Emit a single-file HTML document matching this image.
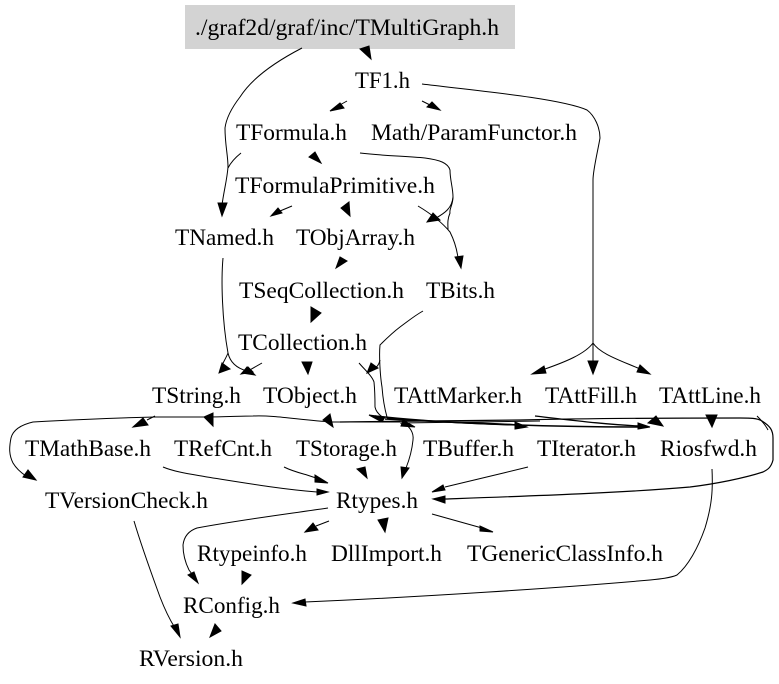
<!DOCTYPE html>
<html>
<head>
<meta charset="utf-8">
<style>
html,body{margin:0;padding:0;background:#fff;width:779px;height:684px;overflow:hidden}
svg{display:block}
text{font-family:"Liberation Serif",serif;font-size:23px;fill:#000}
path{fill:none;stroke:#000;stroke-width:1}
polygon{fill:#000;stroke:#000;stroke-width:1}
</style>
</head>
<body>
<svg width="779" height="684" viewBox="0 0 779 684" xmlns="http://www.w3.org/2000/svg">
<rect x="185" y="5" width="330" height="44" fill="#d3d3d3"/>
<g>
<text x="195" y="35" textLength="304" lengthAdjust="spacingAndGlyphs">./graf2d/graf/inc/TMultiGraph.h</text>
<text x="355" y="88" textLength="55" lengthAdjust="spacingAndGlyphs">TF1.h</text>
<text x="236" y="140" textLength="111" lengthAdjust="spacingAndGlyphs">TFormula.h</text>
<text x="371" y="140" textLength="206" lengthAdjust="spacingAndGlyphs">Math/ParamFunctor.h</text>
<text x="235" y="193" textLength="200" lengthAdjust="spacingAndGlyphs">TFormulaPrimitive.h</text>
<text x="175" y="245" textLength="99" lengthAdjust="spacingAndGlyphs">TNamed.h</text>
<text x="296" y="245" textLength="119" lengthAdjust="spacingAndGlyphs">TObjArray.h</text>
<text x="239" y="298" textLength="165" lengthAdjust="spacingAndGlyphs">TSeqCollection.h</text>
<text x="426" y="298" textLength="69" lengthAdjust="spacingAndGlyphs">TBits.h</text>
<text x="238" y="350" textLength="129" lengthAdjust="spacingAndGlyphs">TCollection.h</text>
<text x="152" y="403" textLength="89" lengthAdjust="spacingAndGlyphs">TString.h</text>
<text x="263" y="403" textLength="94" lengthAdjust="spacingAndGlyphs">TObject.h</text>
<text x="394" y="403" textLength="128" lengthAdjust="spacingAndGlyphs">TAttMarker.h</text>
<text x="545" y="403" textLength="92" lengthAdjust="spacingAndGlyphs">TAttFill.h</text>
<text x="659" y="403" textLength="102" lengthAdjust="spacingAndGlyphs">TAttLine.h</text>
<text x="25" y="456" textLength="126" lengthAdjust="spacingAndGlyphs">TMathBase.h</text>
<text x="174" y="456" textLength="98" lengthAdjust="spacingAndGlyphs">TRefCnt.h</text>
<text x="296" y="456" textLength="101" lengthAdjust="spacingAndGlyphs">TStorage.h</text>
<text x="423" y="456" textLength="91" lengthAdjust="spacingAndGlyphs">TBuffer.h</text>
<text x="537" y="456" textLength="99" lengthAdjust="spacingAndGlyphs">TIterator.h</text>
<text x="660" y="456" textLength="97" lengthAdjust="spacingAndGlyphs">Riosfwd.h</text>
<text x="45" y="508" textLength="163" lengthAdjust="spacingAndGlyphs">TVersionCheck.h</text>
<text x="336" y="508" textLength="82" lengthAdjust="spacingAndGlyphs">Rtypes.h</text>
<text x="197" y="561" textLength="110" lengthAdjust="spacingAndGlyphs">Rtypeinfo.h</text>
<text x="331" y="561" textLength="111" lengthAdjust="spacingAndGlyphs">DllImport.h</text>
<text x="467" y="561" textLength="196" lengthAdjust="spacingAndGlyphs">TGenericClassInfo.h</text>
<text x="183" y="613" textLength="97" lengthAdjust="spacingAndGlyphs">RConfig.h</text>
<text x="139" y="666" textLength="104" lengthAdjust="spacingAndGlyphs">RVersion.h</text>
</g>
<!-- connectors -->
<path d="M302,48 C275,62 252,78 240,97 C230,110 226,120 225,128 C225,145 228,155 228,167 C227,180 224,190 222,205"/>
<path d="M241,153 C236,157 231,162 228,168"/>
<path d="M347,101 L338,106"/>
<path d="M422,101 L432,106"/>
<path d="M422,84 C470,90 560,98 587,110 C595,116 600,128 600,138 C598,150 593,170 593,180 L593,361"/>
<path d="M593,343 C585,354 565,362 545,369"/>
<path d="M593,343 C600,354 622,361 640,369"/>
<path d="M360,153 C385,156 405,156 425,158 C440,160 448,163 450,170 C450,180 453,188 453,197 C453,205 449,209 450,213 C447,220 448,225 448,230"/>
<path d="M453,197 C452,208 445,213 436,218"/>
<path d="M418,206 C428,212 440,220 450,232 C454,240 457,250 458,258"/>
<path d="M292,206 L280,211"/>
<path d="M223,258 C221,280 222,320 228,353 C226,358 224,361 222,365"/>
<path d="M228,353 C230,362 236,368 247,371"/>
<path d="M262,363 L248,371"/>
<path d="M359,363 C365,370 372,376 374,382 C375,392 375,400 375,407 C376,412 379,415 384,418"/>
<path d="M423,311 C414,316 407,322 400,327 C392,333 385,340 380,345 C379,355 380,375 382,387 C383,400 385,410 387,417"/>
<path d="M380,360 C379,365 376,368 373,369"/>
<path d="M375,416 C430,422 480,424 520,425" style="stroke-width:1.5"/>
<path d="M387,418 C460,424 560,427 642,427" style="stroke-width:1.5"/>
<path d="M385,419 C440,422 490,423 518,425" style="stroke-width:1.5"/>
<path d="M400,422 L333,422 C300,420 275,415 253,416 C240,416 225,417 204,417 L155,417 C110,418 70,420 33,422 C20,425 13,430 11,438 C9,448 9,455 13,463 C16,468 20,472 26,476"/>
<path d="M400,423 L540,421"/>
<path d="M155,416 L147,420"/>
<path d="M340,422 C400,421 470,421 520,420 C600,418 680,418 740,418 C750,418 757,418 762,421 C770,426 773,430 773,438 L773,460 C771,468 767,470 763,472 C745,478 715,484 690,487 C620,493 530,496 445,499" style="stroke-width:1.2"/>
<path d="M757,416 C763,422 766,426 768,430"/>
<path d="M535,416 C570,420 610,425 640,426" style="stroke-width:1.3"/>
<path d="M403,421 C410,428 414,432 413,440 C412,450 410,458 406,468"/>
<path d="M528,467 C500,474 470,481 445,487"/>
<path d="M712,469 C713,490 712,505 705,528 C698,548 688,566 677,575 C670,578 660,579 650,580 C560,588 420,597 305,602"/>
<path d="M163,467 C175,472 190,474 207,477 C245,483 280,489 317,492"/>
<path d="M284,467 C292,471 300,473 307,475 L316,478"/>
<path d="M328,508 C280,515 240,520 197,528 C188,531 184,537 183,545 C183,555 185,562 189,570 L192,574"/>
<path d="M329,521 L316,526"/>
<path d="M432,514 L482,528"/>
<path d="M134,521 C142,548 152,575 160,597 C165,610 170,620 175,628"/>
<!-- arrowheads -->
<polygon points="371,59 360,49 369,46"/>
<polygon points="222,216 218,203 227,203"/>
<polygon points="330,111 340,103 344,108"/>
<polygon points="440,110 427,107 432,102"/>
<polygon points="532,374 544,366 546,373"/>
<polygon points="593,374 588,361 598,361"/>
<polygon points="650,374 640,365 637,372"/>
<polygon points="321,163 309,157 315,152"/>
<polygon points="427,222 433,213 440,220"/>
<polygon points="461,268 455,257 463,256"/>
<polygon points="271,216 278,208 282,213"/>
<polygon points="350,216 341,208 349,202"/>
<polygon points="336,268 340,257 347,261"/>
<polygon points="311,322 311,307 321,313"/>
<polygon points="219,373 222,363 230,369"/>
<polygon points="255,375 247,367 242,373"/>
<polygon points="241,374 248,367 253,372"/>
<polygon points="308,374 302,362 312,362"/>
<polygon points="367,373 371,363 378,368"/>
<polygon points="369,415 382,422 385,417"/>
<polygon points="415,427 403,420 401,426"/>
<polygon points="527,427 515,422 515,429"/>
<polygon points="650,427 638,423 638,429"/>
<polygon points="663,426 656,416 648,423"/>
<polygon points="712,427 706,415 717,415"/>
<polygon points="204,417 213,413 213,426"/>
<polygon points="333,427 323,420 330,414"/>
<polygon points="133,427 143,418 148,425"/>
<polygon points="36,480 23,477 28,470"/>
<polygon points="433,499 445,496 445,503"/>
<polygon points="402,478 401,467 409,468"/>
<polygon points="367,478 357,469 365,467"/>
<polygon points="432,492 443,485 445,490"/>
<polygon points="293,603 305,599 306,606"/>
<polygon points="328,492 317,489 317,495"/>
<polygon points="328,483 315,475 315,482"/>
<polygon points="198,583 188,575 194,572"/>
<polygon points="305,532 313,523 318,530"/>
<polygon points="385,532 378,520 388,518"/>
<polygon points="493,532 480,526 480,531"/>
<polygon points="242,584 242,571 251,575"/>
<polygon points="180,637 171,626 178,624"/>
<polygon points="210,637 215,624 221,631"/>
</svg>
</body>
</html>
